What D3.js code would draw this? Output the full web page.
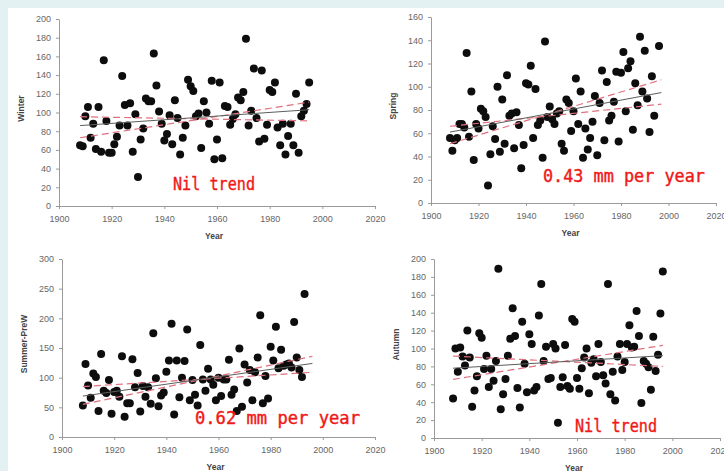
<!DOCTYPE html>
<html>
<head>
<meta charset="utf-8">
<script src="https://cdn.jsdelivr.net/npm/d3@7"></script>
<style>
  body { margin: 0; background: #e4f1f3; }
  svg { display: block; }
  .axis path, .axis line { stroke: #9a9a9a; }
  .axis text { fill: #666; font-family: "Liberation Sans", Arial, sans-serif; font-size: 9px; }
  .lab { fill: #444; font-family: "Liberation Sans", Arial, sans-serif; font-size: 8.5px; font-weight: bold; }
  .note { fill: #f01818; stroke: #f01818; stroke-width: 0.4; font-family: "DejaVu Sans Mono", monospace; font-size: 17px; }
</style>
</head>
<body>
<script>
// seasonal rainfall, one value per year from the start year
var winterStart = 1908;
var winter = [65,64,96,106,73,88,61,106,58,156, 91,57,57,66,74,86,139,108,86,110,
  58,98,31,71,83,115,112,112,163,129, 101,88,70,77,97,66,113,94,55,73,
  86,135,128,123,96,99,62,112,100,88, 134,50,71,132,51,107,106,87,93,98,
  116,113,122,179,86,102,147,94,69,145, 72,87,124,122,132,84,65,88,55,75,
  88,65,120,57,96,102,109,132];

var springStart = 1908;
var spring = [56,45,54,56,68,68,65,129,57,96, 37,68,64,81,79,74,15,42,66,55,
  100,44,89,51,110,75,77,47,78,67, 30,50,103,102,118,56,98,67,71,39,
  139,74,83,72,68,77,79,51,45,89, 86,62,79,107,68,96,39,64,46,56,
  70,92,41,86,114,54,104,71,75,87, 113,53,112,130,79,116,122,63,103,84,
  143,96,131,90,61,109,75,null,135];

var summerStart = 1908;
var summer = [53,123,87,66,107,101,44,140,78,74, 96,39,76,78,68,136,34,57,57,131,
  84,108,43,86,68,84,56,175,99,52, 70,75,110,129,191,38,129,67,100,128,
  181,62,96,71,53,155,97,78,115,97, 88,62,100,69,97,97,130,71,80,44,
  149,51,122,92,113,62,109,134,205,57, 103,65,152,129,186,116,147,120,122,124,
  117,194,134,113,101,241];

var autumnStart = 1908;
var autumn = [44,100,74,101,91,81,120,90,35,53, 69,117,112,77,92,57,77,64,86,189,
  32,49,66,92,111,145,114,56,34,130, 83,51,116,105,53,57,137,172,86,102,
  66,67,105,100,17,57,68,104,58,55, 133,130,67,55,78,90,100,50,84,88,
  69,105,85,70,61,172,49,74,42,91, 105,76,85,105,126,101,102,142,114,39,
  86,83,79,54,113,75,93,139,186];

// trend lines: [start, end] years and values at those years
var winterSpan = [1908, 1995], winterFit = [86, 103], winterBandA = [73, 111], winterBandB = [95.5, 91];
var springSpan = [1908, 1997], springFit = [61, 95], springBandA = [51, 106], springBandB = [66, 85];
var summerSpan = [1908, 1996], summerFit = [69, 124], summerBandA = [55, 136], summerBandB = [85, 109];
var autumnSpan = [1908, 1996], autumnFit = [78, 92], autumnBandA = [65.5, 103.5], autumnBandB = [91.5, 80];

var xTicks = [1900, 1920, 1940, 1960, 1980, 2000, 2020];
var winterTicks = [0,20,40,60,80,100,120,140,160,180,200];
var springTicks = [0,20,40,60,80,100,120,140,160];
var summerTicks = [0,50,100,150,200,250,300];
var autumnTicks = [0,20,40,60,80,100,120,140,160,180,200];

var seasonNames = ["Winter", "Spring", "Summer-PreW", "Autumn"];
var notes = ["Nil trend", "0.43 mm per year", "0.62 mm per year", "Nil trend"];

var width = 724, height = 471;

var panels = [
  {values: winter, start: winterStart, span: winterSpan, fit: winterFit, a: winterBandA, b: winterBandB, ticks: winterTicks,
   x0: 59, x1: 375, yTop: 19, yBot: 206, noteX: 173, noteY: 190, noteW: 82},
  {values: spring, start: springStart, span: springSpan, fit: springFit, a: springBandA, b: springBandB, ticks: springTicks,
   x0: 431, x1: 716, yTop: 17, yBot: 203, noteX: 543, noteY: 182, noteW: 162},
  {values: summer, start: summerStart, span: summerSpan, fit: summerFit, a: summerBandA, b: summerBandB, ticks: summerTicks,
   x0: 62, x1: 375, yTop: 259, yBot: 437, noteX: 195, noteY: 424, noteW: 165},
  {values: autumn, start: autumnStart, span: autumnSpan, fit: autumnFit, a: autumnBandA, b: autumnBandB, ticks: autumnTicks,
   x0: 434, x1: 720, yTop: 259, yBot: 438, noteX: 575, noteY: 432, noteW: 82}
];

var svg = d3.select("body").append("svg")
    .attr("width", width)
    .attr("height", height);

svg.append("rect")
    .attr("x", 8).attr("y", 8)
    .attr("width", width - 8).attr("height", height - 8)
    .attr("fill", "#fff");

panels.forEach(function(p, i) {
  var x = d3.scaleLinear().domain([1900, 2020]).range([p.x0, p.x1]);
  var y = d3.scaleLinear().domain([0, d3.max(p.ticks)]).range([p.yBot, p.yTop]);
  var g = svg.append("g");

  g.append("g")
      .attr("class", "x axis")
      .attr("transform", "translate(0," + p.yBot + ")")
      .call(d3.axisBottom(x).tickValues(xTicks).tickFormat(d3.format("d")).tickSize(3).tickSizeOuter(0).tickPadding(7));

  g.append("g")
      .attr("class", "y axis")
      .attr("transform", "translate(" + p.x0 + ",0)")
      .call(d3.axisLeft(y).tickValues(p.ticks).tickSize(3).tickSizeOuter(0).tickPadding(5));

  // axis titles
  g.append("text")
      .attr("class", "lab")
      .attr("text-anchor", "middle")
      .attr("transform", "translate(" + (p.x0 - 35) + "," + ((p.yTop + p.yBot) / 2 - 4) + ") rotate(-90)")
      .text(seasonNames[i]);

  g.append("text")
      .attr("class", "lab")
      .attr("text-anchor", "middle")
      .attr("x", (p.x0 + p.x1) / 2 - 3)
      .attr("y", p.yBot + 33)
      .text("Year");

  var pts = p.values.map(function(v, k) { return {year: p.start + k, v: v}; })
      .filter(function(d) { return d.v != null; });

  g.selectAll(".dot")
      .data(pts)
    .enter().append("circle")
      .attr("class", "dot")
      .attr("cx", function(d) { return x(d.year); })
      .attr("cy", function(d) { return y(d.v); })
      .attr("r", 4)
      .attr("fill", "#0d0d0d");

  var line = d3.line()
      .x(function(d, k) { return x(p.span[k]); })
      .y(function(d) { return y(d); });

  [p.a, p.b].forEach(function(band) {
    g.append("path")
        .attr("d", line(band))
        .attr("fill", "none")
        .attr("stroke", "#e0707e")
        .attr("stroke-width", 1.2)
        .attr("stroke-dasharray", "7,4");
  });

  g.append("path")
      .attr("d", line(p.fit))
      .attr("fill", "none")
      .attr("stroke", "#5a5f5c")
      .attr("stroke-width", 1);

  g.append("text")
      .attr("class", "note")
      .attr("x", p.noteX)
      .attr("y", p.noteY)
      .attr("textLength", p.noteW)
      .attr("lengthAdjust", "spacingAndGlyphs")
      .text(notes[i]);
});
</script>
</body>
</html>
